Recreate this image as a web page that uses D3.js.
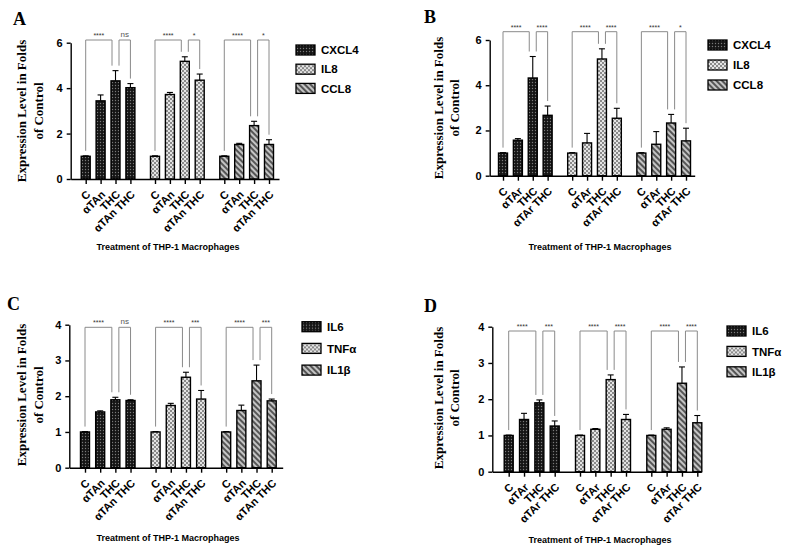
<!DOCTYPE html>
<html>
<head>
<meta charset="utf-8">
<script src="https://cdn.jsdelivr.net/npm/d3@7"></script>
<style>
  body { margin: 0; background: #fff; }
  svg { display: block; }
  .tick text { font-family: "Liberation Sans", Arial, sans-serif; font-weight: bold; fill: #000; }
  .axis path, .axis line { stroke: #000; stroke-width: 1.4; }
</style>
</head>
<body>
<div id="chart"></div>
<script>
// ---- data ----
var treatmentsAn = ["C", "αTAn", "THC", "αTAn THC"];
var treatmentsAr = ["C", "αTAr", "THC", "αTAr THC"];
var chemokines = ["CXCL4", "IL8", "CCL8"];
var cytokines = ["IL6", "TNFα", "IL1β"];

var ticksChemo = [0, 2, 4, 6];
var ticksCyto = [0, 1, 2, 3, 4];

// means (one row per gene) and upper error (SD)
var meansA = [[1, 3.44, 4.32, 4.02], [1, 3.72, 5.18, 4.35], [1, 1.52, 2.35, 1.52]];
var errA   = [[0.02, 0.26, 0.45, 0.18], [0.02, 0.09, 0.20, 0.27], [0.02, 0.05, 0.19, 0.21]];
var meansB = [[1, 1.57, 4.32, 2.67], [1, 1.45, 5.16, 2.54], [1, 1.39, 2.33, 1.54]];
var errB   = [[0.02, 0.07, 0.95, 0.41], [0.02, 0.42, 0.45, 0.44], [0.02, 0.56, 0.38, 0.56]];
var meansC = [[1, 1.56, 1.90, 1.88], [1, 1.74, 2.53, 1.92], [1, 1.60, 2.43, 1.87]];
var errC   = [[0.01, 0.03, 0.07, 0.02], [0.01, 0.06, 0.14, 0.24], [0.01, 0.15, 0.44, 0.05]];
var meansD = [[1, 1.44, 1.90, 1.26], [1, 1.17, 2.54, 1.44], [1, 1.17, 2.44, 1.35]];
var errD   = [[0.01, 0.17, 0.08, 0.14], [0.01, 0.02, 0.13, 0.14], [0.01, 0.04, 0.45, 0.20]];

var sigA = [["****", "ns"], ["****", "*"], ["****", "*"]];
var sigB = [["****", "****"], ["****", "****"], ["****", "*"]];
var sigC = [["****", "ns"], ["****", "***"], ["****", "***"]];
var sigD = [["****", "***"], ["****", "****"], ["****", "****"]];

var xTitle = "Treatment of THP-1 Macrophages";
var yTitle = ["Expression Level in Folds", "of Control"];

// ---- layout ----
var W = 786, H = 553;
var GAP = 1.65;      // extra slots between groups
var barW = 9;

var svg = d3.select("#chart").append("svg")
    .attr("width", W)
    .attr("height", H);

// fill patterns
var defs = svg.append("defs");

var pDark = defs.append("pattern").attr("id", "pat0")
    .attr("patternUnits", "userSpaceOnUse").attr("width", 3).attr("height", 3);
pDark.append("rect").attr("width", 3).attr("height", 3).attr("fill", "#151515");
pDark.append("circle").attr("cx", 1.5).attr("cy", 1.5).attr("r", 0.7).attr("fill", "#7a7a7a");

var pCheck = defs.append("pattern").attr("id", "pat1")
    .attr("patternUnits", "userSpaceOnUse").attr("width", 4).attr("height", 4);
pCheck.append("rect").attr("width", 4).attr("height", 4).attr("fill", "#e4e4e4");
pCheck.append("rect").attr("width", 2).attr("height", 2).attr("fill", "#8a8a8a");
pCheck.append("rect").attr("x", 2).attr("y", 2).attr("width", 2).attr("height", 2).attr("fill", "#8a8a8a");

var pStripe = defs.append("pattern").attr("id", "pat2")
    .attr("patternUnits", "userSpaceOnUse").attr("width", 4).attr("height", 4)
    .attr("patternTransform", "rotate(-45)");
pStripe.append("rect").attr("width", 4).attr("height", 4).attr("fill", "#c4c4c4");
pStripe.append("rect").attr("width", 2).attr("height", 4).attr("fill", "#555");

var panels = [
    {letter: "A", lx: 13, ly: 25, means: meansA, err: errA, sig: sigA, genes: chemokines, treat: treatmentsAn,
     ticks: ticksChemo, axisX: 70.7, axisEnd: 279, first: 85.7, last: 269, y0: 179, yTop: 42.7,
     brY: 40, legX: 296, legY: 50, legStep: 19.2, titleX: [21.7, 38.3], titleY: 111, xtX: 168, xtY: 250},
    {letter: "B", lx: 424, ly: 23, means: meansB, err: errB, sig: sigB, genes: chemokines, treat: treatmentsAr,
     ticks: ticksChemo, axisX: 489.7, axisEnd: 694.7, first: 503, last: 686, y0: 175.7, yTop: 40,
     brY: 31.7, legX: 708, legY: 45, legStep: 20, titleX: [438, 454.7], titleY: 108, xtX: 600, xtY: 250},
    {letter: "C", lx: 7, ly: 310, means: meansC, err: errC, sig: sigC, genes: cytokines, treat: treatmentsAn,
     ticks: ticksCyto, axisX: 69.3, axisEnd: 282.7, first: 85, last: 271.7, y0: 467.7, yTop: 324.7,
     brY: 327.3, legX: 302, legY: 326.7, legStep: 21.7, titleX: [21.7, 38.3], titleY: 395, xtX: 168, xtY: 541},
    {letter: "D", lx: 424, ly: 312, means: meansD, err: errD, sig: sigD, genes: cytokines, treat: treatmentsAr,
     ticks: ticksCyto, axisX: 492.3, axisEnd: 701.3, first: 508.7, last: 697.3, y0: 471.7, yTop: 326.7,
     brY: 331, legX: 727, legY: 331, legStep: 20.4, titleX: [438, 454.7], titleY: 398, xtX: 600, xtY: 543}
];

function slot(g, i) {
    return g * (3 + GAP) + i;
}

panels.forEach(function(p) {
    var g = svg.append("g");
    var span = slot(2, 3);

    var x = d3.scaleLinear().domain([0, span]).range([p.first, p.last]);
    var xAxisScale = x.copy().domain([x.invert(p.axisX), x.invert(p.axisEnd)]).range([p.axisX, p.axisEnd]);
    var ymax = p.ticks[p.ticks.length - 1];
    var y = d3.scaleLinear().domain([0, ymax]).range([p.y0, p.yTop]);

    // flatten bars
    var bars = [];
    p.means.forEach(function(row, gi) {
        row.forEach(function(v, ti) {
            bars.push({g: gi, t: ti, value: v, err: p.err[gi][ti]});
        });
    });

    // bars
    g.selectAll("rect.bar")
        .data(bars)
        .enter()
        .append("rect")
        .attr("class", "bar")
        .attr("x", function(d) { return x(slot(d.g, d.t)) - barW / 2; })
        .attr("y", function(d) { return y(d.value); })
        .attr("width", barW)
        .attr("height", function(d) { return p.y0 - y(d.value); })
        .attr("fill", function(d) { return "url(#pat" + d.g + ")"; })
        .attr("stroke", "#000")
        .attr("stroke-width", 1.4);

    // error bars (upper only)
    var eb = g.selectAll("g.err")
        .data(bars)
        .enter()
        .append("g")
        .attr("class", "err")
        .attr("stroke", "#000")
        .attr("stroke-width", 1.1);
    eb.append("line")
        .attr("x1", function(d) { return x(slot(d.g, d.t)); })
        .attr("x2", function(d) { return x(slot(d.g, d.t)); })
        .attr("y1", function(d) { return y(d.value); })
        .attr("y2", function(d) { return y(d.value + d.err); });
    eb.append("line")
        .attr("x1", function(d) { return x(slot(d.g, d.t)) - 3; })
        .attr("x2", function(d) { return x(slot(d.g, d.t)) + 3; })
        .attr("y1", function(d) { return y(d.value + d.err); })
        .attr("y2", function(d) { return y(d.value + d.err); });

    // axes
    var tickVals = bars.map(function(d) { return slot(d.g, d.t); });
    var xAxis = d3.axisBottom(xAxisScale)
        .tickValues(tickVals)
        .tickSize(5)
        .tickSizeOuter(0)
        .tickFormat(function(d, i) { return p.treat[i % 4]; });
    var xg = g.append("g")
        .attr("class", "axis")
        .attr("transform", "translate(0," + p.y0 + ")")
        .call(xAxis);
    xg.selectAll("text")
        .attr("font-size", 11)
        .attr("x", -8)
        .attr("y", 11)
        .attr("dy", "0.35em")
        .attr("transform", "rotate(-45)")
        .style("text-anchor", "end");

    var yAxis = d3.axisLeft(y)
        .tickValues(p.ticks)
        .tickSize(4)
        .tickSizeOuter(0)
        .tickFormat(d3.format("d"));
    var yg = g.append("g")
        .attr("class", "axis")
        .attr("transform", "translate(" + p.axisX + ",0)")
        .call(yAxis);
    yg.selectAll("text").attr("font-size", 11).attr("x", -8);

    // significance brackets
    p.sig.forEach(function(pair, gi) {
        var xc = x(slot(gi, 0)), xt = x(slot(gi, 2)), xd = x(slot(gi, 3));
        var topOf = function(ti) { return y(p.means[gi][ti] + p.err[gi][ti]) - 5; };
        var brackets = [
            {x1: xc, x2: xt - 3.5, y1: topOf(0), y2: topOf(2), label: pair[0]},
            {x1: xt + 3.5, x2: xd, y1: topOf(2), y2: topOf(3), label: pair[1]}
        ];
        brackets.forEach(function(b) {
            g.append("path")
                .attr("d", "M" + b.x1 + "," + b.y1 + "V" + p.brY + "H" + b.x2 + "V" + b.y2)
                .attr("fill", "none")
                .attr("stroke", "#8a8a8a")
                .attr("stroke-width", 1);
            g.append("text")
                .attr("x", (b.x1 + b.x2) / 2)
                .attr("y", p.brY - (b.label === "ns" ? 3 : 2))
                .attr("text-anchor", "middle")
                .attr("font-family", "Liberation Sans, Arial, sans-serif")
                .attr("font-size", b.label === "ns" ? 8 : 7)
                .attr("fill", b.label === "ns" ? "#555" : "#333")
                .text(b.label);
        });
    });

    // legend
    var leg = g.selectAll("g.leg")
        .data(p.genes)
        .enter()
        .append("g")
        .attr("class", "leg")
        .attr("transform", function(d, i) { return "translate(" + p.legX + "," + (p.legY + i * p.legStep) + ")"; });
    leg.append("rect")
        .attr("x", 0)
        .attr("y", -5)
        .attr("width", 19)
        .attr("height", 10)
        .attr("fill", function(d, i) { return "url(#pat" + i + ")"; })
        .attr("stroke", "#000")
        .attr("stroke-width", 1.3);
    leg.append("text")
        .attr("x", 25)
        .attr("dy", "0.36em")
        .attr("font-family", "Liberation Sans, Arial, sans-serif")
        .attr("font-weight", "bold")
        .attr("font-size", 11.5)
        .text(function(d) { return d; });

    // y title (two lines, serif)
    yTitle.forEach(function(line, i) {
        g.append("text")
            .attr("transform", "translate(" + p.titleX[i] + "," + p.titleY + ") rotate(-90)")
            .attr("text-anchor", "middle")
            .attr("dy", "0.35em")
            .attr("font-family", "Liberation Serif, Times New Roman, serif")
            .attr("font-weight", "bold")
            .attr("font-size", 13)
            .text(line);
    });

    // x title
    g.append("text")
        .attr("x", p.xtX)
        .attr("y", p.xtY)
        .attr("text-anchor", "middle")
        .attr("font-family", "Liberation Sans, Arial, sans-serif")
        .attr("font-weight", "bold")
        .attr("font-size", 9)
        .text(xTitle);

    // panel letter
    g.append("text")
        .attr("x", p.lx)
        .attr("y", p.ly)
        .attr("font-family", "Liberation Serif, Times New Roman, serif")
        .attr("font-weight", "bold")
        .attr("font-size", 18)
        .text(p.letter);
});
</script>
</body>
</html>
